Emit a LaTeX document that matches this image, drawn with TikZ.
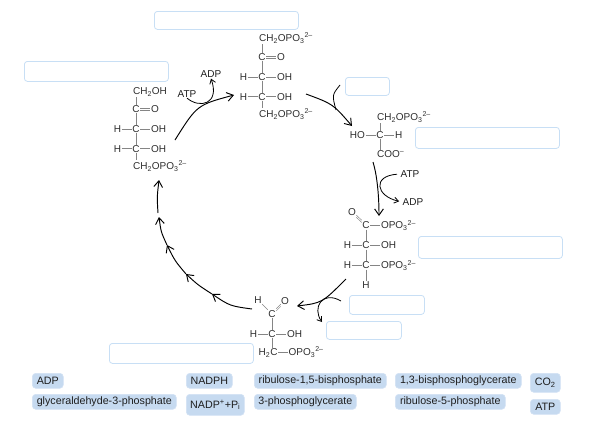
\documentclass[tikz,border=0pt]{standalone}
\usepackage{fontspec}
\setmainfont{Liberation Sans}
\usepackage{xcolor}
\usetikzlibrary{arrows.meta,positioning}
\definecolor{inkdark}{HTML}{1E1E1E}
\definecolor{atomink}{HTML}{2E2E2E}
\definecolor{bondgrey}{HTML}{858585}
\definecolor{tagbg}{HTML}{C6DAF0}
\definecolor{tagborder}{HTML}{D3E2F4}
\definecolor{blankborder}{HTML}{C8DFF5}
\newcommand{\sbs}[1]{\textsubscript{#1}}
\newcommand{\sps}[1]{\textsuperscript{#1}}
\newcommand{\phosgroup}{OPO\sbs{3}\sps{2--}}

\begin{document}
\begin{tikzpicture}[
  x=1pt, y=-1pt,
  atom/.style={inner sep=0.5pt, font=\fontsize{10}{12}\selectfont, text=atomink},
  chain/.style={inner sep=0.5pt, font=\fontsize{10}{12}\selectfont, text=atomink, anchor=base west},
  cofactor/.style={inner sep=0.5pt, font=\fontsize{10}{12}\selectfont, text=inkdark},
  bond/.style={draw=bondgrey, line width=0.6pt},
  dbonda/.style={draw=bondgrey, line width=0.5pt, transform canvas={yshift=1.1pt}},
  dbondb/.style={draw=bondgrey, line width=0.5pt, transform canvas={yshift=-1.1pt}},
  blank/.style={draw=blankborder, fill=white, line width=0.8pt, rounded corners=3pt, anchor=north west, inner sep=0pt},
  tag/.style={draw=tagborder, fill=tagbg, line width=0.6pt, rounded corners=3.5pt, anchor=north west, inner sep=0pt, font=\fontsize{10.7}{12}\selectfont, text=inkdark},
  arr/.style={-{Straight Barb[length=2.2mm,width=3.9mm,angle'=70]}, line width=0.95pt, color=black},
  side/.style={-{Straight Barb[length=1.5mm,width=2.6mm,angle'=70]}, line width=0.8pt, color=black},
  node distance=10pt
]
  \useasboundingbox (0,0) rectangle (589,434);

  % blanks
  \node[blank, minimum width=144pt, minimum height=18pt] (blanka) at (154,11) {};
  \node[blank, minimum width=144pt, minimum height=20pt] (blankb) at (24,61) {};
  \node[blank, minimum width=44pt, minimum height=18pt] (blankc) at (345,77) {};
  \node[blank, minimum width=144pt, minimum height=21pt] (blankd) at (415,127) {};
  \node[blank, minimum width=144pt, minimum height=22pt] (blanke) at (418,236) {};
  \node[blank, minimum width=75pt, minimum height=19pt] (blankf) at (349,295) {};
  \node[blank, minimum width=75pt, minimum height=18pt] (blankg) at (326,321) {};
  \node[blank, minimum width=144pt, minimum height=20pt] (blankh) at (109,343) {};

  % answer tags
  \node[tag, minimum width=31pt, minimum height=15pt] (tagadp) at (32,373) {ADP};
  \node[tag, minimum width=46pt, minimum height=15pt] (tagnadph) at (186,373) {NADPH};
  \node[tag, minimum width=132pt, minimum height=15pt] (tagrubp) at (254,373) {ribulose-1,5-bisphosphate};
  \node[tag, minimum width=126pt, minimum height=15pt] (tagbpg) at (395,373) {1,3-bisphosphoglycerate};
  \node[tag, minimum width=30pt, minimum height=19pt] (tagco) at (530,373) {CO\sbs{2}};
  \node[tag, minimum width=144pt, minimum height=15pt] (taggap) at (32,394) {glyceraldehyde-3-phosphate};
  \node[tag, minimum width=58pt, minimum height=21pt] (tagnadp) at (186,394) {NADP\sps{+}+P\sbs{i}};
  \node[tag, minimum width=102pt, minimum height=15pt] (tagpga) at (254,394) {3-phosphoglycerate};
  \node[tag, minimum width=110pt, minimum height=15pt] (tagrup) at (395,394) {ribulose-5-phosphate};
  \node[tag, minimum width=30pt, minimum height=15pt] (tagatp) at (530,399) {ATP};

  % ribulose-1,5-bisphosphate
  \node[atom] (ca) at (262,57) {C};
  \node[atom, right=of ca] (oa) {O};
  \node[atom, below=11.4pt of ca] (cb) {C};
  \node[atom, left=of cb] (hb) {H};
  \node[atom, right=of cb] (ohb) {OH};
  \node[atom, below=11.4pt of cb] (cc) {C};
  \node[atom, left=of cc] (hc) {H};
  \node[atom, right=of cc] (ohc) {OH};
  \node[chain] (topa) at (258.4,41.6) {CH\sbs{2}\phosgroup};
  \node[chain] (bota) at (258.4,117.6) {CH\sbs{2}\phosgroup};
  \draw[bond] (ca.north) -- (ca.north |- topa.south);
  \draw[dbonda] (ca) -- (oa);
  \draw[dbondb] (ca) -- (oa);
  \draw[bond] (ca) -- (cb);
  \draw[bond] (hb) -- (cb);
  \draw[bond] (cb) -- (ohb);
  \draw[bond] (cb) -- (cc);
  \draw[bond] (hc) -- (cc);
  \draw[bond] (cc) -- (ohc);
  \draw[bond] (cc.south) -- (cc.south |- bota.north);

  % ribulose-5-phosphate
  \node[atom] (cd) at (136,109) {C};
  \node[atom, right=of cd] (od) {O};
  \node[atom, below=11.4pt of cd] (ce) {C};
  \node[atom, left=of ce] (he) {H};
  \node[atom, right=of ce] (ohe) {OH};
  \node[atom, below=11.4pt of ce] (cf) {C};
  \node[atom, left=of cf] (hf) {H};
  \node[atom, right=of cf] (ohf) {OH};
  \node[chain] (topb) at (132.4,94.6) {CH\sbs{2}OH};
  \node[chain] (botb) at (132.4,169.6) {CH\sbs{2}\phosgroup};
  \draw[bond] (cd.north) -- (cd.north |- topb.south);
  \draw[dbonda] (cd) -- (od);
  \draw[dbondb] (cd) -- (od);
  \draw[bond] (cd) -- (ce);
  \draw[bond] (he) -- (ce);
  \draw[bond] (ce) -- (ohe);
  \draw[bond] (ce) -- (cf);
  \draw[bond] (hf) -- (cf);
  \draw[bond] (cf) -- (ohf);
  \draw[bond] (cf.south) -- (cf.south |- botb.north);

  % 3-phosphoglycerate
  \node[atom] (cg) at (380,135) {C};
  \node[atom, left=of cg] (hog) {HO};
  \node[atom, right=of cg] (hg) {H};
  \node[chain] (topc) at (376.4,120.6) {CH\sbs{2}\phosgroup};
  \node[chain] (botc) at (376.4,157.6) {COO\sps{--}};
  \draw[bond] (cg.north) -- (cg.north |- topc.south);
  \draw[bond] (hog) -- (cg);
  \draw[bond] (cg) -- (hg);
  \draw[bond] (cg.south) -- (cg.south |- botc.north);

  % 1,3-bisphosphoglycerate
  \node[atom] (ch) at (366,225.5) {C};
  \node[atom] (oh) at (352,212) {O};
  \node[atom, anchor=west, right=of ch] (ph) {\phosgroup};
  \node[atom, below=11.4pt of ch] (ci) {C};
  \node[atom, left=of ci] (hi) {H};
  \node[atom, right=of ci] (ohi) {OH};
  \node[atom, below=11.4pt of ci] (cj) {C};
  \node[atom, left=of cj] (hj) {H};
  \node[atom, anchor=west, right=of cj] (pj) {\phosgroup};
  \node[atom, below=11.4pt of cj] (hk) {H};
  \draw[dbonda] (oh) -- (ch);
  \draw[dbondb] (oh) -- (ch);
  \draw[bond] (ch) -- (ph);
  \draw[bond] (ch) -- (ci);
  \draw[bond] (hi) -- (ci);
  \draw[bond] (ci) -- (ohi);
  \draw[bond] (ci) -- (cj);
  \draw[bond] (hj) -- (cj);
  \draw[bond] (cj) -- (pj);
  \draw[bond] (cj) -- (hk);

  % glyceraldehyde-3-phosphate
  \node[atom] (cl) at (272,314) {C};
  \node[atom] (hl) at (258,300) {H};
  \node[atom] (ol) at (285,301) {O};
  \node[atom, below=11.4pt of cl] (cm) {C};
  \node[atom, left=of cm] (hm) {H};
  \node[atom, right=of cm] (ohm) {OH};
  \node[chain] (botd) at (258,355.6) {H\sbs{2}C};
  \node[chain] (pd) at (288,355.6) {\phosgroup};
  \draw[bond] (hl) -- (cl);
  \draw[dbonda] (cl) -- (ol);
  \draw[dbondb] (cl) -- (ol);
  \draw[bond] (cl) -- (cm);
  \draw[bond] (hm) -- (cm);
  \draw[bond] (cm) -- (ohm);
  \draw[bond] (cm.south) -- (cm.south |- botd.north);
  \draw[bond] (botd.east |- pd.west) -- (pd.west);

  % cycle
  \coordinate (ringa) at (175,140);
  \coordinate (ringb) at (234,95);
  \coordinate (ringc) at (306,94);
  \coordinate (ringd) at (352,126);
  \coordinate (ringe) at (373,162);
  \coordinate (ringf) at (379,216);
  \coordinate (ringg) at (346,279);
  \coordinate (ringh) at (297,306);
  \coordinate (ringi) at (252,309);
  \coordinate (ringj) at (212,294);
  \coordinate (ringk) at (186,274);
  \coordinate (ringl) at (167,245);
  \coordinate (ringm) at (159,217);
  \coordinate (ringn) at (158,213);
  \coordinate (ringo) at (159,180);
  \draw[arr] (ringa) .. controls (197,105) .. (ringb);
  \draw[arr] (ringc) .. controls (333,104) .. (ringd);
  \draw[arr] (ringe) .. controls (377,175) and (379,195) .. (ringf);
  \draw[arr] (ringg) .. controls (322,303) .. (ringh);
  \draw[arr] (ringi) .. controls (230,306) .. (ringj);
  \draw[arr] (ringj) .. controls (198,285) .. (ringk);
  \draw[arr] (ringk) .. controls (175,261) .. (ringl);
  \draw[arr] (ringl) .. controls (161,232) .. (ringm);
  \draw[arr] (ringn) .. controls (157,197) .. (ringo);

  % side reactions
  \node[cofactor] (atpa) at (187,94) {ATP};
  \node[cofactor] (adpa) at (211,74.5) {ADP};
  \node[cofactor, anchor=west] (atpb) at (400,174) {ATP};
  \node[cofactor, anchor=west] (adpb) at (402,202) {ADP};
  \coordinate (sidea) at (340,85);
  \coordinate (sideb) at (336,110);
  \coordinate (sidec) at (341,301);
  \coordinate (sided) at (322,322);
  \draw[side] (atpa.south) .. controls (200,109) and (220,104) .. (adpa.south);
  \draw[line width=0.8pt] (sidea) .. controls (332,95) .. (sideb);
  \draw[side, shorten <=3pt, shorten >=3pt] (atpb.west) .. controls (372,176) and (376,196) .. (adpb.west);
  \draw[side] (sidec) .. controls (322,290) and (312,308) .. (sided);
\end{tikzpicture}
\end{document}
